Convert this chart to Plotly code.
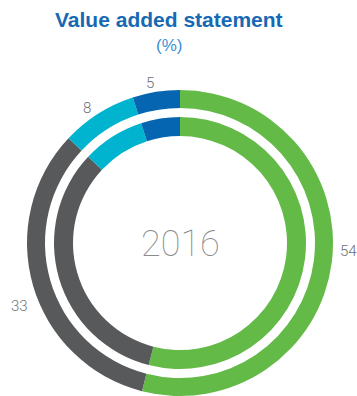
import math
import plotly.graph_objects as go

# Value added statement, 2016 (%)
categories = ["Employees", "Government", "Shareholders", "Lenders"]
values = [54, 33, 8, 5]
colors = ["#63ba47", "#58595b", "#00b4d0", "#0565b1"]

W, H = 357, 396
CX, CY = 180, 243          # ring centre in pixels (from top-left)
OUTER_R, OUTER_IN = 153, 135
INNER_R, INNER_IN = 126, 107


def domain(r):
    return dict(
        x=[(CX - r) / W, (CX + r) / W],
        y=[(H - CY - r) / H, (H - CY + r) / H],
    )


fig = go.Figure()
for r, r_in in [(OUTER_R, OUTER_IN), (INNER_R, INNER_IN)]:
    fig.add_trace(go.Pie(
        labels=categories,
        values=values,
        marker=dict(colors=colors, line=dict(width=0)),
        hole=r_in / r,
        sort=False,
        direction="clockwise",
        rotation=0,
        textinfo="none",
        hoverinfo="label+value",
        domain=domain(r),
        showlegend=False,
    ))

# value labels placed around the outer ring at each slice's mid-angle
label_radius = [169, 173, 164, 163]
label_nudge_deg = [-4.5, -5.3, -2.1, -1.6]
total = sum(values)
annotations = []
cum = 0
for v, rad, nudge in zip(values, label_radius, label_nudge_deg):
    mid = (cum + v / 2) / total * 360 + nudge
    cum += v
    px = CX + rad * math.sin(math.radians(mid))
    py = CY - rad * math.cos(math.radians(mid))
    annotations.append(dict(
        x=px / W, y=1 - py / H, xref="paper", yref="paper",
        text=str(v), showarrow=False, xanchor="center", yanchor="middle",
        font=dict(family="Roboto", weight=300, size=15, color="#6d6e71"),
    ))

annotations += [
    dict(x=168.5 / W, y=1 - 19.5 / H, xref="paper", yref="paper",
         text="<b>Value added statement</b>", showarrow=False,
         xanchor="center", yanchor="middle",
         font=dict(family="Liberation Sans, Arial", size=21, color="#1769b3")),
    dict(x=168.5 / W, y=1 - 45 / H, xref="paper", yref="paper",
         text="(%)", showarrow=False, xanchor="center", yanchor="middle",
         font=dict(family="Liberation Sans, Arial", size=17, color="#3d8fd1")),
    dict(x=CX / W, y=1 - 244 / H, xref="paper", yref="paper",
         text="2016", showarrow=False, xanchor="center", yanchor="middle",
         font=dict(family="Roboto", weight=100, size=36, color="#8a8b8e")),
]

fig.update_layout(
    width=W, height=H,
    margin=dict(l=0, r=0, t=0, b=0),
    paper_bgcolor="white", plot_bgcolor="white",
    annotations=annotations,
)

fig.write_html("out.html", config={"displayModeBar": False})
